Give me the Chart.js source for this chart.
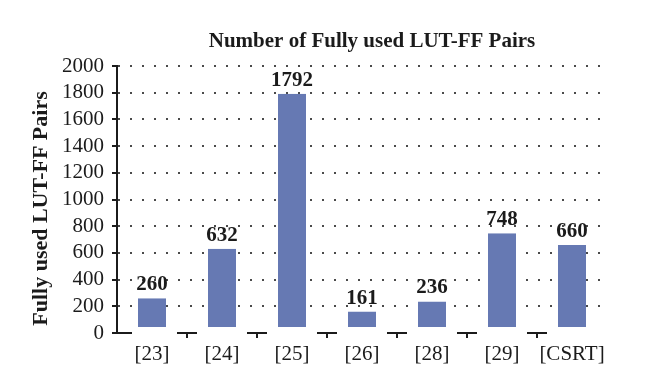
<!DOCTYPE html>
<html>
<head>
<meta charset="utf-8">
<script src="https://cdn.jsdelivr.net/npm/chart.js@4.4.1/dist/chart.umd.min.js"></script>
<style>
  html, body { margin: 0; padding: 0; background: #fff; }
  #wrap { width: 660px; height: 391px; }
</style>
</head>
<body>
<div id="wrap"><canvas id="lutChart"></canvas></div>
<script>
// -------------------- Data --------------------
const categories = ["[23]", "[24]", "[25]", "[26]", "[28]", "[29]", "[CSRT]"];
const pairValues = [260, 632, 1792, 161, 236, 748, 660];
const yTicks = [0, 200, 400, 600, 800, 1000, 1200, 1400, 1600, 1800, 2000];

const chartTitle = "Number of Fully used LUT-FF Pairs";
const yTitle = "Fully used LUT-FF Pairs";
const serif = "'Liberation Serif', 'Times New Roman', serif";
const ink = "#1b1b1b";

// titles: the main one sits over the plot, the y one a bit below the plot's middle
const titlePlugin = {
  id: "plotTitle",
  afterDraw(chart) {
    const { ctx, chartArea } = chart;
    ctx.save();
    ctx.font = "bold 21px " + serif;
    ctx.fillStyle = ink;
    ctx.textAlign = "center";
    ctx.textBaseline = "alphabetic";
    ctx.fillText(chartTitle, (chartArea.left + chartArea.right) / 2 + 10, 47);

    ctx.font = "bold 22px " + serif;
    ctx.textBaseline = "middle";
    ctx.translate(41, (chartArea.top + chartArea.bottom) / 2 + 9);
    ctx.rotate(-Math.PI / 2);
    ctx.fillText(yTitle, 0, 0);
    ctx.restore();
  }
};

// numbers above each bar
const valueLabels = {
  id: "valueLabels",
  afterDatasetsDraw(chart) {
    const { ctx } = chart;
    const meta = chart.getDatasetMeta(0);
    ctx.save();
    ctx.font = "bold 21px " + serif;
    ctx.fillStyle = ink;
    ctx.textAlign = "center";
    ctx.textBaseline = "alphabetic";
    meta.data.forEach((bar, i) => {
      ctx.fillText(String(pairValues[i]), bar.x, bar.y - 8);
    });
    ctx.restore();
  }
};

// broken x axis: short pieces between the bars, with a small tick at each boundary
const brokenAxis = {
  id: "brokenAxis",
  afterDatasetsDraw(chart) {
    const { ctx, chartArea } = chart;
    const x = chart.scales.x, y = chart.scales.y;
    const y0 = y.getPixelForValue(0);
    ctx.save();
    ctx.strokeStyle = ink;
    ctx.lineWidth = 2;
    ctx.beginPath();
    ctx.moveTo(chartArea.left - 1, y0);
    ctx.lineTo(chartArea.left + 15, y0);
    for (let i = 0; i < categories.length - 1; i++) {
      const b = (x.getPixelForValue(i) + x.getPixelForValue(i + 1)) / 2;
      ctx.moveTo(b - 10, y0);
      ctx.lineTo(b + 10, y0);
      ctx.moveTo(b, y0);
      ctx.lineTo(b, y0 + 5);
    }
    ctx.stroke();
    ctx.restore();
  }
};

new Chart(document.getElementById("lutChart"), {
  type: "bar",
  data: {
    labels: categories,
    datasets: [{
      data: pairValues,
      backgroundColor: "#6679b3",
      borderColor: "#ffffff",
      borderWidth: { top: 0, left: 0, right: 0, bottom: 5 },
      borderSkipped: false,
      barPercentage: 0.4,
      categoryPercentage: 1.0
    }]
  },
  options: {
    responsive: true,
    maintainAspectRatio: false,
    animation: false,
    layout: { padding: { top: 66, right: 53, bottom: 0, left: 0 } },
    plugins: {
      legend: { display: false },
      title: { display: false },
      tooltip: { enabled: false }
    },
    scales: {
      x: {
        offset: true,
        grid: { display: false },
        border: { display: false },
        ticks: { color: ink, font: { family: serif, size: 21 }, padding: 1, maxRotation: 0 },
        afterFit(s) { s.height = 58; }
      },
      y: {
        min: 0,
        max: 2000,
        afterBuildTicks(s) { s.ticks = yTicks.map(v => ({ value: v })); },
        ticks: {
          color: ink,
          font: { family: serif, size: 21 },
          padding: 8,
          autoSkip: false,
          callback: v => String(v)
        },
        grid: {
          color: c => (c.tick && c.tick.value === 0 ? "rgba(0,0,0,0)" : "#4a4a4a"),
          lineWidth: 2,
          tickLength: 5,
          tickColor: ink,
          tickWidth: 2
        },
        border: { display: true, color: ink, width: 2, dash: [2, 10], dashOffset: -12 },
        title: { display: false },
        afterFit(s) { s.width = 117; }
      }
    }
  },
  plugins: [titlePlugin, valueLabels, brokenAxis]
});
</script>
</body>
</html>
